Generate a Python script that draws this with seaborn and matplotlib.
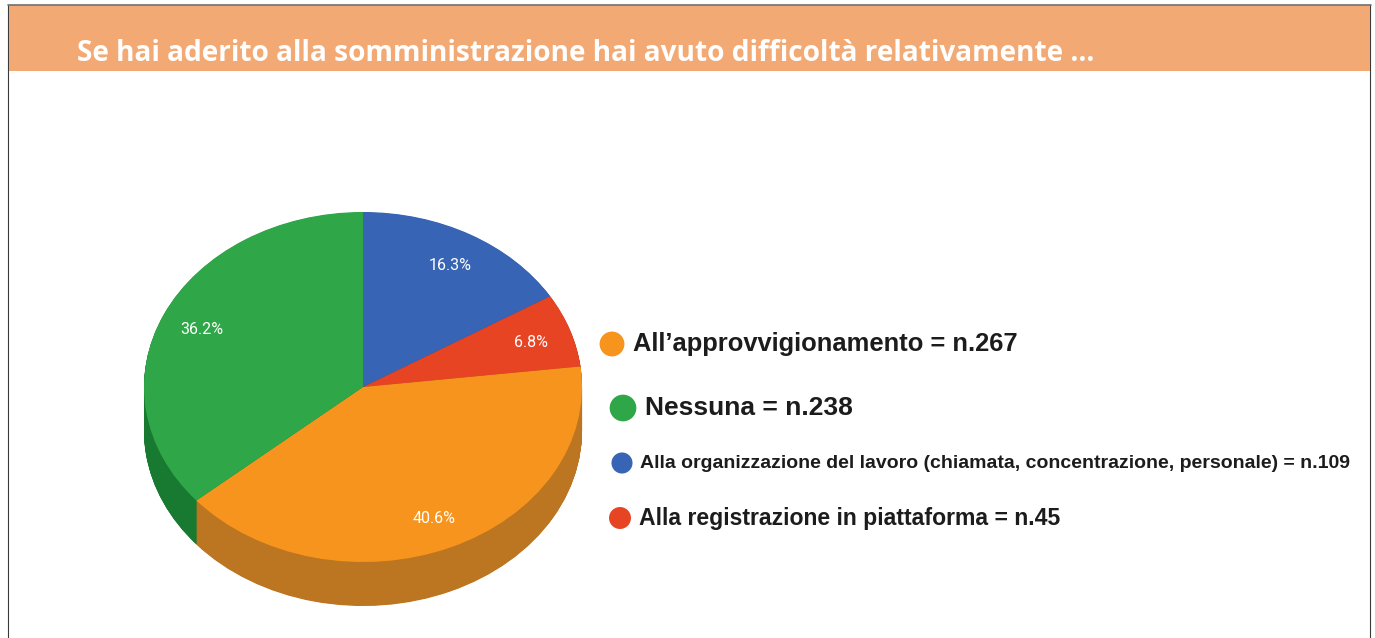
import numpy as np
import seaborn as sns
import matplotlib.pyplot as plt
from matplotlib.patches import Rectangle

TITLE = "Se hai aderito alla somministrazione hai avuto difficoltà relativamente …"

# clockwise from 12 o'clock
slice_names = ["Organizzazione", "Registrazione", "Approvvigionamento", "Nessuna"]
slice_pct = [16.3, 6.8, 40.6, 36.2]
slice_colors = ["#3764B4", "#E64423", "#F7941E", "#2FA748"]
side_colors = ["#26467E", "#A13018", "#BC7520", "#187A30"]

legend_labels = [
    "All’approvvigionamento = n.267",
    "Nessuna = n.238",
    "Alla organizzazione del lavoro (chiamata, concentrazione, personale) = n.109",
    "Alla registrazione in piattaforma = n.45",
]
legend_colors = ["#F7941E", "#2FA748", "#3764B4", "#E64423"]
legend_x = [612, 623, 622, 620]
legend_y = [344, 408, 463, 518]
legend_sizes = [320, 370, 230, 250]
legend_text_x = [633, 645, 640, 639]
legend_fontsize = [18.4, 19.0, 14.0, 16.6]

W, H = 1375, 638
CX, CY, RX, RY = 363, 387, 219, 175
DEPTH = 44
LIM = 1.25

sns.set_theme(style="white")
plt.rcParams["font.family"] = ["Liberation Sans", "DejaVu Sans"]

fig = plt.figure(figsize=(W / 100, H / 100), dpi=100, facecolor="white")

# page layer in pixel coordinates
bg = fig.add_axes([0, 0, 1, 1])
bg.set_xlim(0, W)
bg.set_ylim(H, 0)
bg.axis("off")
bg.add_patch(Rectangle((8.5, 5), 1361.5, H, fc="white", ec="#3a3a3a", lw=0.8))
bg.add_patch(Rectangle((9, 5), 1361, 66, fc="#F3A973", ec="none"))
bg.plot([8, 1371], [4.5, 4.5], color="#707070", lw=1.2)
bg.text(77, 50, TITLE, color="white", fontsize=20.2, fontweight="bold",
        family=["Open Sans", "DejaVu Sans"], va="center_baseline", ha="left")

# pie axes, stretched so that the circle becomes the tilted ellipse
left = (CX - RX * LIM) / W
bottom = 1 - (CY + RY * LIM + DEPTH) / H
width = 2 * RX * LIM / W
height = (2 * RY * LIM + DEPTH) / H
ax = fig.add_axes([left, bottom, width, height])
ymin = -LIM - DEPTH / RY
flat = dict(linewidth=0, edgecolor="none")

for d in np.arange(DEPTH, 0, -0.5):
    ax.pie(slice_pct, colors=side_colors, startangle=90, counterclock=False,
           center=(0, -d / RY), radius=1, wedgeprops=flat)

wedges, _, autotexts = ax.pie(
    slice_pct, colors=slice_colors, startangle=90, counterclock=False,
    autopct="%.1f%%", pctdistance=0.81, wedgeprops=flat,
    textprops=dict(color="white", fontsize=11.5, family=["Roboto", "DejaVu Sans"]),
)
for t in autotexts:
    t.set_y(t.get_position()[1] - 0.012)
ax.set_aspect("auto")
ax.set_xlim(-LIM, LIM)
ax.set_ylim(ymin, LIM)
ax.patch.set_alpha(0)

# legend layer
fg = fig.add_axes([0, 0, 1, 1])
fg.patch.set_alpha(0)
sns.scatterplot(x=legend_x, y=legend_y, hue=legend_labels, palette=legend_colors,
                size=legend_labels, sizes=dict(zip(legend_labels, legend_sizes)),
                linewidth=0, legend=False, ax=fg)
fg.set_xlim(0, W)
fg.set_ylim(H, 0)
fg.axis("off")
for tx, ty, lab, fs in zip(legend_text_x, legend_y, legend_labels, legend_fontsize):
    fg.text(tx, ty, lab, fontsize=fs, fontweight="bold", color="#1c1c1c",
            va="center", ha="left")

fig.savefig("out.png", dpi=100, facecolor="white")
plt.close(fig)
